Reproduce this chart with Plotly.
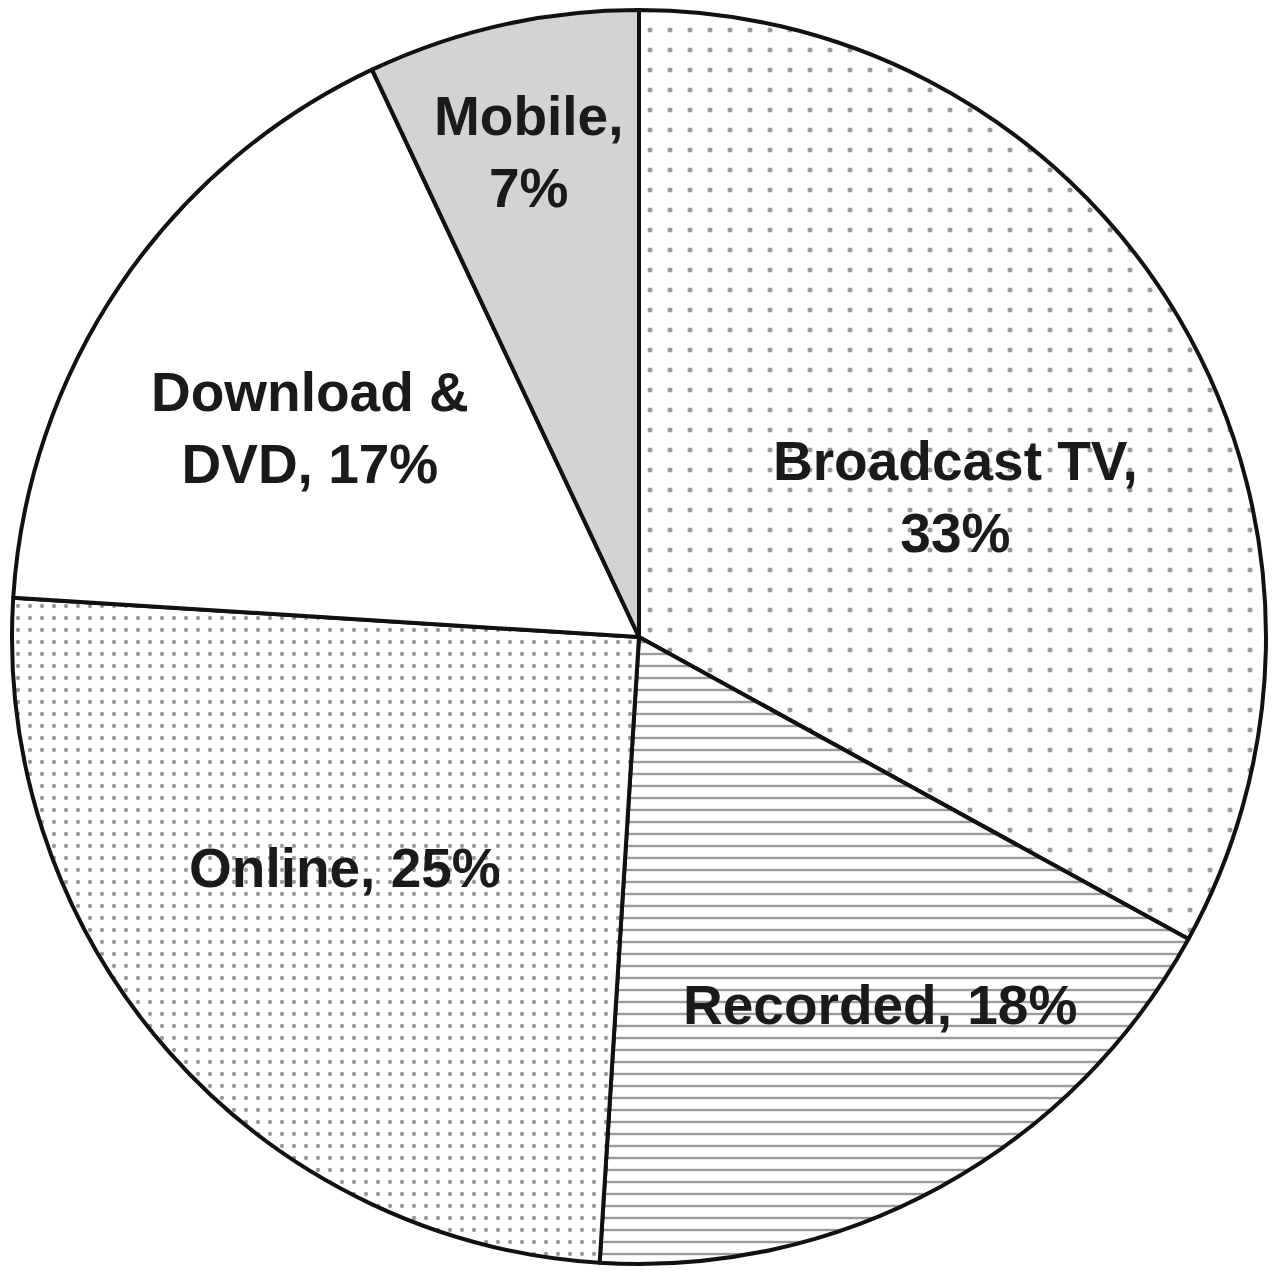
import plotly.graph_objects as go

labels = ["Broadcast TV", "Recorded", "Online", "Download &<br>DVD", "Mobile"]
values = [33, 18, 25, 17, 7]
fill_colors = ["#ffffff", "#ffffff", "#ffffff", "#ffffff", "#d3d3d3"]
pattern_shapes = [".", "-", ".", "", ""]
pattern_sizes = [20, 12, 12, 10, 10]
pattern_solidity = [0.05, 0.2, 0.1, 0.1, 0.1]

# label text layout (line breaks), derived from labels/values
label_texts = [
    f"{labels[0]},<br>{values[0]}%",
    f"{labels[1]}, {values[1]}%",
    f"{labels[2]}, {values[2]}%",
    f"{labels[3]}, {values[3]}%",
    f"{labels[4]},<br>{values[4]}%",
]
label_pos = [(955, 497), (880, 1005), (345, 868), (310, 428), (528, 152)]

W, H = 1280, 1275
cx, cy, r = 639, 637, 627

fig = go.Figure(go.Pie(
    labels=labels,
    values=values,
    sort=False,
    direction="clockwise",
    rotation=0,
    textinfo="none",
    hoverinfo="label+percent",
    marker=dict(
        colors=fill_colors,
        line=dict(color="#111111", width=4),
        pattern=dict(
            shape=pattern_shapes,
            size=pattern_sizes,
            solidity=pattern_solidity,
            fgcolor="#9a9a9a",
            fillmode="replace",
        ),
    ),
    domain=dict(
        x=[(cx - r) / W, (cx + r) / W],
        y=[(H - cy - r) / H, (H - cy + r) / H],
    ),
    showlegend=False,
))

for txt, (x, y) in zip(label_texts, label_pos):
    fig.add_annotation(
        x=x / W, y=1 - y / H, xref="paper", yref="paper",
        text=txt, showarrow=False,
        font=dict(family="Liberation Sans, Arial, sans-serif", size=55,
                  color="#1a1a1a", weight="bold"),
        xanchor="center", yanchor="middle", align="center",
    )

fig.update_layout(
    width=W, height=H,
    margin=dict(l=0, r=0, t=0, b=0),
    paper_bgcolor="white",
    plot_bgcolor="white",
)

fig.write_html("out.html")
